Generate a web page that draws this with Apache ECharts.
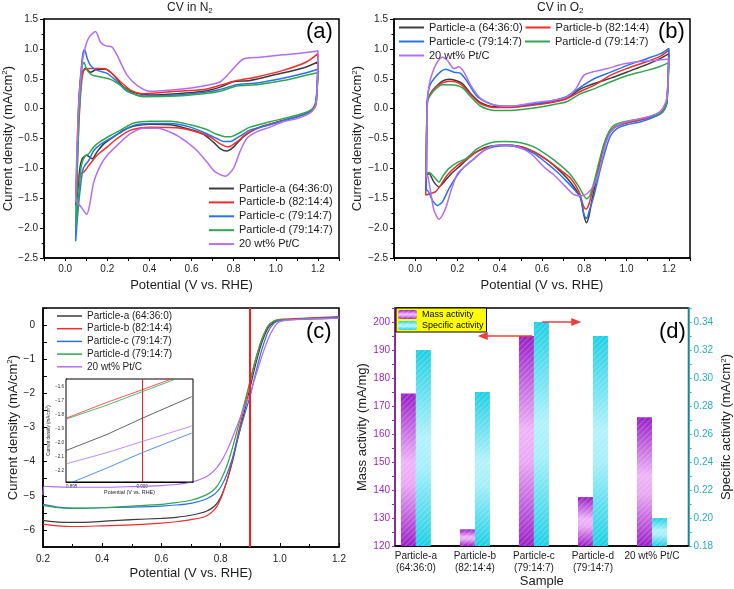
<!DOCTYPE html>
<html><head><meta charset="utf-8">
<script src="https://cdn.jsdelivr.net/npm/echarts@6/dist/echarts.min.js"></script>
<style>html,body{margin:0;padding:0;background:#fff}#c{width:734px;height:589px}</style>
</head><body><div id="c"></div>
<script>
// ---------- names & colours ----------
const seriesNames = ['Particle-a (64:36:0)','Particle-b (82:14:4)','Particle-c (79:14:7)','Particle-d (79:14:7)','20 wt% Pt/C'];
const seriesColors = ['#3c3c3c','#f52c2c','#2a72ea','#2fa64f','#b36ef2'];

// ---------- (a) CV in N2 : [potential V, current mA/cm2] ----------
const n2A = [[0.05,-1.62],[0.058,-0.6],[0.066,0.2],[0.078,0.58],[0.097,0.67],[0.121,0.61],[0.152,0.66],[0.192,0.66],[0.231,0.56],[0.278,0.36],[0.326,0.27],[0.404,0.23],[0.53,0.25],[0.657,0.29],[0.736,0.36],[0.799,0.45],[0.877,0.47],[1.0,0.57],[1.13,0.68],[1.2,0.78],
 [1.19,0.06],[1.16,-0.06],[1.098,-0.14],[1.0,-0.23],[0.909,-0.33],[0.846,-0.47],[0.8,-0.64],[0.767,-0.71],[0.736,-0.67],[0.704,-0.56],[0.657,-0.43],[0.594,-0.35],[0.5,-0.27],[0.404,-0.26],[0.326,-0.29],[0.278,-0.36],[0.231,-0.47],[0.184,-0.59],[0.152,-0.72],[0.129,-0.84],[0.102,-0.78],[0.081,-0.84],[0.07,-1.0],[0.058,-1.45],[0.05,-1.62]];
const n2B = [[0.05,-1.55],[0.058,-0.9],[0.066,-0.2],[0.077,0.39],[0.089,0.64],[0.121,0.67],[0.184,0.67],[0.215,0.61],[0.263,0.45],[0.31,0.31],[0.373,0.25],[0.53,0.29],[0.657,0.32],[0.736,0.39],[0.814,0.47],[0.909,0.53],[1.035,0.64],[1.145,0.78],[1.2,0.92],
 [1.193,0.17],[1.177,0.01],[1.13,-0.1],[1.035,-0.2],[0.94,-0.29],[0.862,-0.42],[0.814,-0.56],[0.775,-0.64],[0.736,-0.59],[0.688,-0.47],[0.625,-0.39],[0.53,-0.32],[0.404,-0.31],[0.31,-0.36],[0.247,-0.5],[0.2,-0.64],[0.152,-0.78],[0.113,-0.95],[0.089,-1.06],[0.066,-1.11],[0.055,-1.4],[0.05,-1.55]];
const n2C = [[0.05,-2.22],[0.054,-1.4],[0.058,-0.72],[0.07,0.39],[0.08,0.8],[0.086,0.95],[0.092,0.99],[0.105,0.84],[0.121,0.72],[0.152,0.64],[0.2,0.59],[0.247,0.45],[0.294,0.29],[0.373,0.21],[0.53,0.23],[0.657,0.27],[0.736,0.32],[0.814,0.4],[0.909,0.43],[1.035,0.51],[1.145,0.6],[1.2,0.66],
 [1.185,0.03],[1.145,-0.08],[1.067,-0.17],[0.972,-0.27],[0.877,-0.36],[0.83,-0.46],[0.783,-0.55],[0.751,-0.55],[0.72,-0.5],[0.672,-0.42],[0.594,-0.31],[0.5,-0.25],[0.404,-0.25],[0.326,-0.28],[0.263,-0.4],[0.215,-0.5],[0.168,-0.6],[0.136,-0.7],[0.113,-0.86],[0.086,-1.0],[0.07,-1.39],[0.058,-1.84],[0.05,-2.22]];
const n2D = [[0.05,-2.0],[0.058,-1.0],[0.066,-0.1],[0.07,0.11],[0.081,0.72],[0.089,0.77],[0.105,0.64],[0.129,0.56],[0.168,0.53],[0.215,0.49],[0.263,0.39],[0.31,0.27],[0.373,0.2],[0.53,0.21],[0.657,0.25],[0.736,0.29],[0.814,0.38],[0.909,0.4],[1.035,0.47],[1.145,0.56],[1.2,0.6],
 [1.185,0.03],[1.145,-0.06],[1.067,-0.14],[0.972,-0.22],[0.877,-0.31],[0.83,-0.4],[0.783,-0.47],[0.76,-0.47],[0.72,-0.43],[0.672,-0.35],[0.594,-0.27],[0.5,-0.21],[0.404,-0.21],[0.326,-0.24],[0.263,-0.36],[0.215,-0.45],[0.168,-0.55],[0.136,-0.64],[0.113,-0.75],[0.092,-0.81],[0.077,-0.95],[0.066,-1.39],[0.05,-2.0]];
const n2Pt = [[0.05,-1.55],[0.055,-0.8],[0.062,-0.1],[0.07,0.35],[0.08,0.75],[0.095,1.02],[0.115,1.2],[0.144,1.29],[0.168,1.11],[0.192,1.05],[0.223,1.03],[0.247,0.89],[0.294,0.56],[0.341,0.39],[0.404,0.29],[0.53,0.32],[0.657,0.38],[0.736,0.45],[0.783,0.61],[0.846,0.83],[0.925,0.86],[1.035,0.9],[1.145,0.94],[1.2,0.97],
 [1.193,0.11],[1.177,-0.03],[1.145,-0.11],[1.098,-0.17],[1.035,-0.22],[0.972,-0.31],[0.909,-0.39],[0.862,-0.5],[0.83,-0.72],[0.799,-1.0],[0.76,-1.13],[0.712,-1.06],[0.672,-0.89],[0.625,-0.7],[0.578,-0.56],[0.515,-0.42],[0.436,-0.33],[0.373,-0.33],[0.31,-0.42],[0.263,-0.56],[0.2,-0.78],[0.168,-0.95],[0.136,-1.23],[0.113,-1.67],[0.102,-1.77],[0.081,-1.67],[0.062,-1.59],[0.05,-1.55]];

// ---------- (b) CV in O2 ----------
const o2A = [[0.053,-1.11],[0.058,0.14],[0.073,0.25],[0.097,0.36],[0.129,0.46],[0.16,0.49],[0.192,0.47],[0.223,0.42],[0.263,0.25],[0.31,0.1],[0.373,0.03],[0.452,0.03],[0.562,0.07],[0.657,0.12],[0.72,0.18],[0.783,0.33],[0.846,0.42],[0.925,0.51],[1.0,0.61],[1.098,0.74],[1.161,0.84],[1.2,0.92],
 [1.19,0.1],[1.17,-0.05],[1.114,-0.14],[1.05,-0.2],[0.988,-0.25],[0.94,-0.32],[0.909,-0.47],[0.885,-0.72],[0.862,-1.1],[0.838,-1.5],[0.822,-1.8],[0.811,-1.91],[0.799,-1.8],[0.783,-1.5],[0.759,-1.35],[0.72,-1.17],[0.672,-1.0],[0.625,-0.86],[0.53,-0.67],[0.436,-0.61],[0.341,-0.64],[0.278,-0.75],[0.215,-0.95],[0.168,-1.1],[0.136,-1.23],[0.113,-1.31],[0.089,-1.23],[0.066,-1.09],[0.053,-1.11]];
const o2B = [[0.05,-1.45],[0.058,0.11],[0.073,0.25],[0.097,0.36],[0.129,0.43],[0.16,0.46],[0.192,0.45],[0.223,0.39],[0.263,0.23],[0.31,0.08],[0.373,0.02],[0.452,0.02],[0.562,0.06],[0.657,0.11],[0.72,0.17],[0.783,0.29],[0.846,0.39],[0.925,0.56],[1.0,0.67],[1.098,0.79],[1.161,0.88],[1.2,0.98],
 [1.19,0.11],[1.17,-0.04],[1.114,-0.14],[1.05,-0.2],[0.988,-0.25],[0.94,-0.32],[0.909,-0.47],[0.885,-0.72],[0.862,-1.06],[0.838,-1.39],[0.818,-1.64],[0.808,-1.68],[0.795,-1.62],[0.775,-1.39],[0.736,-1.17],[0.688,-1.03],[0.625,-0.86],[0.562,-0.72],[0.5,-0.64],[0.42,-0.61],[0.357,-0.64],[0.294,-0.72],[0.239,-0.86],[0.2,-0.95],[0.152,-1.11],[0.121,-1.28],[0.097,-1.39],[0.073,-1.42],[0.05,-1.45]];
const o2C = [[0.053,-1.37],[0.058,0.17],[0.07,0.39],[0.089,0.5],[0.121,0.62],[0.144,0.66],[0.184,0.61],[0.215,0.59],[0.247,0.45],[0.294,0.2],[0.373,0.06],[0.452,0.04],[0.562,0.08],[0.657,0.14],[0.72,0.21],[0.783,0.36],[0.846,0.5],[0.925,0.61],[1.0,0.72],[1.098,0.84],[1.161,0.92],[1.2,1.01],
 [1.19,0.11],[1.17,-0.06],[1.13,-0.14],[1.067,-0.22],[1.0,-0.27],[0.956,-0.33],[0.925,-0.45],[0.9,-0.7],[0.877,-1.0],[0.846,-1.45],[0.822,-1.73],[0.811,-1.84],[0.799,-1.78],[0.783,-1.5],[0.759,-1.38],[0.72,-1.23],[0.672,-1.06],[0.625,-0.92],[0.562,-0.75],[0.5,-0.66],[0.436,-0.62],[0.373,-0.64],[0.326,-0.7],[0.278,-0.84],[0.231,-0.98],[0.2,-1.11],[0.16,-1.34],[0.129,-1.56],[0.105,-1.62],[0.081,-1.53],[0.058,-1.37],[0.053,-1.37]];
const o2D = [[0.053,-1.09],[0.058,0.11],[0.073,0.23],[0.097,0.33],[0.129,0.4],[0.16,0.4],[0.192,0.39],[0.223,0.35],[0.263,0.2],[0.31,0.04],[0.373,-0.03],[0.452,-0.03],[0.562,0.01],[0.657,0.07],[0.72,0.12],[0.783,0.25],[0.846,0.33],[0.925,0.45],[1.0,0.55],[1.098,0.64],[1.161,0.71],[1.2,0.77],
 [1.19,0.08],[1.17,-0.06],[1.114,-0.13],[1.05,-0.18],[0.988,-0.22],[0.94,-0.28],[0.917,-0.38],[0.893,-0.59],[0.87,-0.89],[0.846,-1.23],[0.827,-1.45],[0.811,-1.51],[0.795,-1.44],[0.775,-1.31],[0.736,-1.11],[0.688,-0.95],[0.625,-0.78],[0.562,-0.64],[0.5,-0.57],[0.42,-0.55],[0.357,-0.57],[0.294,-0.67],[0.239,-0.84],[0.2,-0.9],[0.16,-1.0],[0.129,-1.14],[0.113,-1.23],[0.089,-1.14],[0.066,-1.07],[0.053,-1.09]];
const o2Pt = [[0.053,-1.17],[0.058,0.11],[0.066,0.39],[0.081,0.59],[0.105,0.78],[0.129,0.86],[0.152,0.81],[0.184,0.67],[0.207,0.7],[0.231,0.61],[0.263,0.39],[0.31,0.17],[0.373,0.06],[0.452,0.04],[0.562,0.1],[0.657,0.14],[0.72,0.2],[0.759,0.33],[0.799,0.56],[0.846,0.62],[0.909,0.67],[0.988,0.75],[1.067,0.79],[1.145,0.81],[1.2,0.83],
 [1.19,0.17],[1.17,0.0],[1.145,-0.08],[1.098,-0.14],[1.05,-0.18],[1.0,-0.22],[0.956,-0.29],[0.925,-0.39],[0.9,-0.61],[0.877,-0.95],[0.846,-1.28],[0.814,-1.42],[0.783,-1.46],[0.751,-1.44],[0.704,-1.28],[0.657,-1.11],[0.617,-1.0],[0.578,-0.86],[0.546,-0.75],[0.5,-0.66],[0.436,-0.61],[0.373,-0.62],[0.326,-0.7],[0.278,-0.84],[0.231,-0.98],[0.2,-1.09],[0.168,-1.39],[0.144,-1.67],[0.113,-1.85],[0.089,-1.7],[0.073,-1.39],[0.058,-1.11],[0.053,-1.17]];

// ---------- (c) LSV ----------
const lsvPotential = [0.2,0.205,0.25,0.3,0.4,0.5,0.6,0.65,0.7,0.75,0.78,0.8,0.82,0.84,0.86,0.88,0.9,0.92,0.94,0.96,0.98,1.0,1.05,1.1,1.2];
const lsvA  = [-5.72,-5.73,-5.77,-5.78,-5.75,-5.7,-5.66,-5.63,-5.57,-5.46,-5.3,-5.05,-4.6,-4.0,-3.25,-2.55,-1.82,-1.1,-0.5,-0.1,0.08,0.14,0.17,0.19,0.22];
const lsvB  = [-5.83,-5.84,-5.88,-5.9,-5.88,-5.85,-5.8,-5.76,-5.7,-5.6,-5.4,-5.1,-4.6,-3.95,-3.15,-2.4,-1.63,-0.95,-0.4,-0.05,0.12,0.17,0.19,0.21,0.25];
const lsvC  = [-5.25,-5.26,-5.33,-5.36,-5.35,-5.33,-5.3,-5.27,-5.22,-5.1,-4.95,-4.75,-4.4,-3.9,-3.25,-2.65,-2.07,-1.35,-0.7,-0.2,0.05,0.14,0.17,0.19,0.23];
const lsvD  = [-5.27,-5.29,-5.35,-5.37,-5.35,-5.3,-5.25,-5.2,-5.13,-4.98,-4.8,-4.55,-4.15,-3.6,-2.95,-2.3,-1.64,-0.95,-0.4,-0.02,0.12,0.15,0.16,0.17,0.2];
const lsvPt = [-4.98,-4.72,-4.74,-4.75,-4.75,-4.73,-4.7,-4.67,-4.6,-4.45,-4.25,-4.02,-3.7,-3.3,-2.85,-2.42,-1.98,-1.45,-0.9,-0.42,-0.08,0.1,0.16,0.18,0.2];
const halfWave = 0.9;

// ---------- (c) inset ----------
const insetPotential = [0.8946,0.8975,0.9,0.9035];
const insetA  = [-2.055,-1.94,-1.824,-1.67];
const insetB  = [-1.824,-1.71,-1.62,-1.49];
const insetC  = [-2.30,-2.18,-2.07,-1.93];
const insetD  = [-1.83,-1.73,-1.634,-1.50];
const insetPt = [-2.15,-2.07,-1.99,-1.88];

// ---------- (d) activities ----------
const samples = ['Particle-a\n(64:36:0)','Particle-b\n(82:14:4)','Particle-c\n(79:14:7)','Particle-d\n(79:14:7)','20 wt% Pt/C'];
const samplePos = [1,2,3,4,5];
const massActivity = [174.5,126,195,137.5,166];
const specificActivity = [0.32,0.29,0.34,0.33,0.20];

// ---------- tick lists ----------
const cvXLabels = [0,0.2,0.4,0.6,0.8,1.0,1.2];
const cvXTicks = [-0.1,0,0.1,0.2,0.3,0.4,0.5,0.6,0.7,0.8,0.9,1.0,1.1,1.2,1.3];
const lsvYLabels = [-6,-5,-4,-3,-2,-1,0];
const lsvYTicks = [-6.5,-6,-5.5,-5,-4.5,-4,-3.5,-3,-2.5,-2,-1.5,-1,-0.5,0,0.5];
const massLabels = [120,130,140,150,160,170,180,190,200];
const massTicks = [120,125,130,135,140,145,150,155,160,165,170,175,180,185,190,195,200,205];
const specLabels = [0.18,0.20,0.22,0.24,0.26,0.28,0.30,0.32,0.34];
const specTicks = [0.18,0.19,0.20,0.21,0.22,0.23,0.24,0.25,0.26,0.27,0.28,0.29,0.30,0.31,0.32,0.33,0.34,0.35];
const insetXLabels = [0.895,0.900];
const insetXTicks = [0.895,0.8975,0.900,0.9025];
const insetYLabels = [-2.2,-2.1,-2.0,-1.9,-1.8,-1.7,-1.6];

// ---------- helpers ----------
const TXT = '#1d1d1d';
const FONT = 'Liberation Sans, Arial, sans-serif';
const minus = v => (v < 0 ? '\u2212' : '') + Math.abs(v);
const fmt = d => v => (v < 0 ? '\u2212' : '') + Math.abs(v).toFixed(d);
const cdName = 'Current density (mA/cm{sup|2})';
const supRich = size => ({ sup: { fontSize: size * 0.62, padding: [0, 0, size * 0.45, 0], fontFamily: FONT, color: TXT } });

function cvX(grid) {
  return { gridIndex: grid, type: 'value', min: -0.1, max: 1.3,
    axisLine: { show: true, onZero: false, lineStyle: { color: '#000', width: 1.5 } },
    axisTick: { show: true, inside: false, length: 3, customValues: cvXTicks, lineStyle: { color: '#000', width: 1 } },
    axisLabel: { customValues: cvXLabels, formatter: fmt(1), fontSize: 10, color: TXT, fontFamily: FONT, margin: 6 },
    splitLine: { show: false },
    name: 'Potential (V vs. RHE)', nameLocation: 'middle', nameGap: 21,
    nameTextStyle: { fontSize: 13, color: TXT, fontFamily: FONT } };
}
function cvY(grid, gap) {
  return { gridIndex: grid, type: 'value', min: -2.5, max: 1.5, interval: 0.5,
    axisLine: { show: true, onZero: false, lineStyle: { color: '#000', width: 1.5 } },
    axisTick: { show: true, inside: false, length: 4, lineStyle: { color: '#000' } },
    minorTick: { show: true, splitNumber: 2, length: 2.5, lineStyle: { color: '#000' } },
    axisLabel: { formatter: fmt(1), fontSize: 10, color: TXT, fontFamily: FONT, margin: 6 },
    splitLine: { show: false },
    name: cdName, nameLocation: 'middle', nameGap: gap,
    nameTextStyle: { fontSize: 13, color: TXT, fontFamily: FONT, rich: supRich(13) } };
}
function lineSeries(name, idx, data, xi, yi, width, extra) {
  return Object.assign({ type: 'line', name: name, xAxisIndex: xi, yAxisIndex: yi, data: data,
    showSymbol: false, symbol: 'none', smooth: 0.25, animation: false, clip: true,
    lineStyle: { color: seriesColors[idx], width: width }, itemStyle: { color: seriesColors[idx] },
    emphasis: { disabled: true }, z: 3 }, extra || {});
}
const zip = (xs, ys) => xs.map((x, i) => [x, ys[i]]);

const n2Sets = [n2A, n2B, n2C, n2D, n2Pt];
const o2Sets = [o2A, o2B, o2C, o2D, o2Pt];
const lsvSets = [lsvA, lsvB, lsvC, lsvD, lsvPt];
const insetSets = [insetA, insetB, insetC, insetD, insetPt];

const series = [];
n2Sets.forEach((d, i) => series.push(lineSeries(seriesNames[i], i, d, 0, 0, 1.5)));
o2Sets.forEach((d, i) => series.push(lineSeries(seriesNames[i], i, d, 1, 1, 1.5)));
lsvSets.forEach((d, i) => series.push(lineSeries(seriesNames[i], i, zip(lsvPotential, d), 2, 2, 1.2, { smooth: 0.3 })));
series[10].markLine = { silent: true, symbol: 'none', animation: false, label: { show: false },
  lineStyle: { color: '#ff1a1a', width: 2, type: 'solid' }, data: [{ xAxis: halfWave }] };
insetSets.forEach((d, i) => series.push(lineSeries(seriesNames[i], i, zip(insetPotential, d), 4, 5, 0.8, { smooth: false, z: 10 })));
series[15].markLine = { silent: true, symbol: 'none', animation: false, label: { show: false },
  lineStyle: { color: '#ff1a1a', width: 1, type: 'solid' }, data: [{ xAxis: halfWave }], z: 10 };

const massGrad = new echarts.graphic.LinearGradient(0, 0, 0, 1, [
  { offset: 0, color: '#9a1fc8' }, { offset: 0.45, color: '#efb4f8' }, { offset: 0.6, color: '#e9a8f3' }, { offset: 1, color: '#9c22c8' }]);
const specGrad = new echarts.graphic.LinearGradient(0, 0, 0, 1, [
  { offset: 0, color: '#1fd0e6' }, { offset: 0.45, color: '#b3f2fb' }, { offset: 0.6, color: '#a6effa' }, { offset: 1, color: '#1fd0e6' }]);
const hatch = { symbol: 'rect', symbolSize: 1, dashArrayX: [1, 0], dashArrayY: [1, 3], rotation: -Math.PI / 4, color: 'rgba(255,255,255,0.22)' };

// arrow annotation positions (data units on the sample axis)
const massArrow = [3.10, 2.26];
const specArrow = [3.015, 3.59];

series.push({ type: 'bar', name: 'Mass activity', xAxisIndex: 3, yAxisIndex: 3, animation: false,
  data: zip(samplePos, massActivity), barWidth: 15, barGap: '0%',
  itemStyle: { color: massGrad, decal: hatch }, emphasis: { disabled: true },
  markLine: { silent: true, animation: false, symbol: ['none', 'triangle'], symbolSize: [8, 10], label: { show: false },
    lineStyle: { color: '#f03c3c', width: 1.5, type: 'solid' },
    data: [[{ coord: [massArrow[0], massActivity[2]] }, { coord: [massArrow[1], massActivity[2]] }]] } });
series.push({ type: 'bar', name: 'Specific activity', xAxisIndex: 3, yAxisIndex: 4, animation: false,
  data: zip(samplePos, specificActivity), barWidth: 15, barGap: '0%',
  itemStyle: { color: specGrad, decal: hatch }, emphasis: { disabled: true },
  markLine: { silent: true, animation: false, symbol: ['none', 'triangle'], symbolSize: [8, 10], label: { show: false },
    lineStyle: { color: '#f03c3c', width: 1.5, type: 'solid' },
    data: [[{ coord: [specArrow[0], specificActivity[2]] }, { coord: [specArrow[1], specificActivity[2]] }]] } });

const PURPLE = '#9b2bb5', TEAL = '#2aaebb';
const legendBase = { orient: 'vertical', itemWidth: 25, itemHeight: 2, icon: 'rect', selectedMode: false,
  textStyle: { fontSize: 11, color: TXT, fontFamily: FONT }, padding: 0 };

const option = {
  backgroundColor: '#ffffff',
  animation: false,
  title: [
    { text: 'CV in N{s|2}', left: 167, top: 1, padding: 0, textStyle: { fontSize: 12, fontWeight: 'normal', color: TXT, fontFamily: FONT, rich: { s: { fontSize: 8, padding: [6, 0, 0, 0], color: TXT, fontFamily: FONT } } } },
    { text: 'CV in O{s|2}', left: 537, top: 1, padding: 0, textStyle: { fontSize: 12, fontWeight: 'normal', color: TXT, fontFamily: FONT, rich: { s: { fontSize: 8, padding: [6, 0, 0, 0], color: TXT, fontFamily: FONT } } } },
    { text: '(a)', left: 306, top: 21, padding: 0, textStyle: { fontSize: 22, fontWeight: 'normal', color: '#000', fontFamily: FONT } },
    { text: '(b)', left: 658, top: 21, padding: 0, textStyle: { fontSize: 22, fontWeight: 'normal', color: '#000', fontFamily: FONT } },
    { text: '(c)', left: 306, top: 321, padding: 0, textStyle: { fontSize: 22, fontWeight: 'normal', color: '#000', fontFamily: FONT } },
    { text: '(d)', left: 659, top: 321, padding: 0, textStyle: { fontSize: 22, fontWeight: 'normal', color: '#000', fontFamily: FONT } }
  ],
  legend: [
    Object.assign({}, legendBase, { data: seriesNames, left: 209, top: 183, itemGap: 2.9 }),
    Object.assign({}, legendBase, { data: seriesNames, orient: 'horizontal', left: 399, top: 22, width: 262, itemGap: 3 }),
    Object.assign({}, legendBase, { data: seriesNames, left: 57, top: 311, itemGap: 2.7, itemHeight: 1.5, textStyle: { fontSize: 10, color: TXT, fontFamily: FONT } }),
    { data: ['Mass activity', 'Specific activity'], orient: 'vertical', left: 396, top: 308, selectedMode: false,
      itemWidth: 19, itemHeight: 9, itemGap: 2, padding: [2, 3, 2, 2],
      backgroundColor: '#ffff00', borderColor: '#000', borderWidth: 1,
      textStyle: { fontSize: 9, color: '#000', fontFamily: FONT } }
  ],
  grid: [
    { left: 43, top: 19, width: 296, height: 239, show: true, borderColor: '#000', borderWidth: 1.5, backgroundColor: 'transparent' },
    { left: 394, top: 19, width: 296, height: 239, show: true, borderColor: '#000', borderWidth: 1.5, backgroundColor: 'transparent' },
    { left: 43, top: 308, width: 296, height: 239, show: true, borderColor: '#000', borderWidth: 1.5, backgroundColor: 'transparent' },
    { left: 395, top: 308, width: 295, height: 239, show: true, borderColor: '#000', borderWidth: 1.5, backgroundColor: 'transparent' },
    { left: 66, top: 379, width: 127, height: 103, show: true, borderColor: '#000', borderWidth: 1, backgroundColor: '#fff', z: 5 }
  ],
  xAxis: [
    cvX(0), cvX(1),
    { gridIndex: 2, type: 'value', min: 0.2, max: 1.2, interval: 0.2,
      axisLine: { show: true, onZero: false, lineStyle: { color: '#000', width: 1.5 } },
      axisTick: { show: true, inside: true, length: 4, lineStyle: { color: '#000' } },
      minorTick: { show: true, splitNumber: 2, length: 3, lineStyle: { color: '#000' } },
      axisLabel: { formatter: fmt(1), fontSize: 10, color: TXT, fontFamily: FONT, margin: 7 },
      splitLine: { show: false },
      name: 'Potential (V vs. RHE)', nameLocation: 'middle', nameGap: 20,
      nameTextStyle: { fontSize: 13, color: TXT, fontFamily: FONT } },
    { gridIndex: 3, type: 'value', min: 0.646, max: 5.62,
      axisLine: { show: true, onZero: false, lineStyle: { color: '#000', width: 1.5 } },
      axisTick: { show: false },
      axisLabel: { customValues: samplePos, formatter: v => samples[Math.round(v) - 1], fontSize: 10, lineHeight: 12, color: TXT, fontFamily: FONT, margin: 4 },
      splitLine: { show: false },
      name: 'Sample', nameLocation: 'middle', nameGap: 27,
      nameTextStyle: { fontSize: 13, color: TXT, fontFamily: FONT } },
    { gridIndex: 4, type: 'value', min: 0.8946, max: 0.9036,
      axisLine: { show: true, onZero: false, lineStyle: { color: '#000', width: 1 } },
      axisTick: { show: true, inside: true, length: 2, customValues: insetXTicks, lineStyle: { color: '#000', width: 0.6 } },
      axisLabel: { customValues: insetXLabels, formatter: v => v.toFixed(3), fontSize: 4.5, color: TXT, fontFamily: FONT, margin: 2 },
      splitLine: { show: false },
      name: 'Potential (V vs. RHE)', nameLocation: 'middle', nameGap: 8,
      nameTextStyle: { fontSize: 5.4, color: TXT, fontFamily: FONT } }
  ],
  yAxis: [
    cvY(0, 26), cvY(1, 27),
    { gridIndex: 2, type: 'value', min: -6.5, max: 0.5,
      axisLine: { show: true, onZero: false, lineStyle: { color: '#000', width: 1.5 } },
      axisTick: { show: true, inside: true, length: 4, customValues: lsvYTicks, lineStyle: { color: '#000' } },
      axisLabel: { customValues: lsvYLabels, formatter: minus, fontSize: 10, color: TXT, fontFamily: FONT, margin: 8 },
      splitLine: { show: false },
      name: cdName, nameLocation: 'middle', nameGap: 20,
      nameTextStyle: { fontSize: 13, color: TXT, fontFamily: FONT, rich: supRich(13) } },
    { gridIndex: 3, type: 'value', min: 120, max: 205, startValue: 120, position: 'left',
      axisLine: { show: true, onZero: false, lineStyle: { color: PURPLE, width: 1.5 } },
      axisTick: { show: true, inside: false, length: 3, customValues: massTicks, lineStyle: { color: PURPLE } },
      axisLabel: { customValues: massLabels, fontSize: 10, color: PURPLE, fontFamily: FONT, margin: 5 },
      splitLine: { show: false },
      name: 'Mass activity (mA/mg)', nameLocation: 'middle', nameGap: 24,
      nameTextStyle: { fontSize: 13, color: TXT, fontFamily: FONT } },
    { gridIndex: 3, type: 'value', min: 0.18, max: 0.35, startValue: 0.18, position: 'right',
      axisLine: { show: true, onZero: false, lineStyle: { color: TEAL, width: 1.5 } },
      axisTick: { show: true, inside: false, length: 3, customValues: specTicks, lineStyle: { color: TEAL } },
      axisLabel: { customValues: specLabels, formatter: v => v.toFixed(2), fontSize: 10, color: TEAL, fontFamily: FONT, margin: 5 },
      splitLine: { show: false },
      name: 'Specific activity (mA/cm{sup|2})', nameLocation: 'middle', nameGap: 31,
      nameTextStyle: { fontSize: 13, color: TXT, fontFamily: FONT, rich: supRich(13) } },
    { gridIndex: 4, type: 'value', min: -2.28, max: -1.543,
      axisLine: { show: true, onZero: false, lineStyle: { color: '#000', width: 1 } },
      axisTick: { show: true, inside: true, length: 2, customValues: insetYLabels, lineStyle: { color: '#000', width: 0.6 } },
      axisLabel: { customValues: insetYLabels, formatter: fmt(1), fontSize: 4.5, color: TXT, fontFamily: FONT, margin: 2 },
      splitLine: { show: false },
      name: cdName, nameLocation: 'middle', nameGap: 11,
      nameTextStyle: { fontSize: 4.5, color: TXT, fontFamily: FONT, rich: supRich(4.5) } }
  ],
  series: series
};

const chart = echarts.init(document.getElementById('c'), null, { renderer: 'canvas', width: 734, height: 589 });
chart.setOption(option);
</script>
</body></html>
